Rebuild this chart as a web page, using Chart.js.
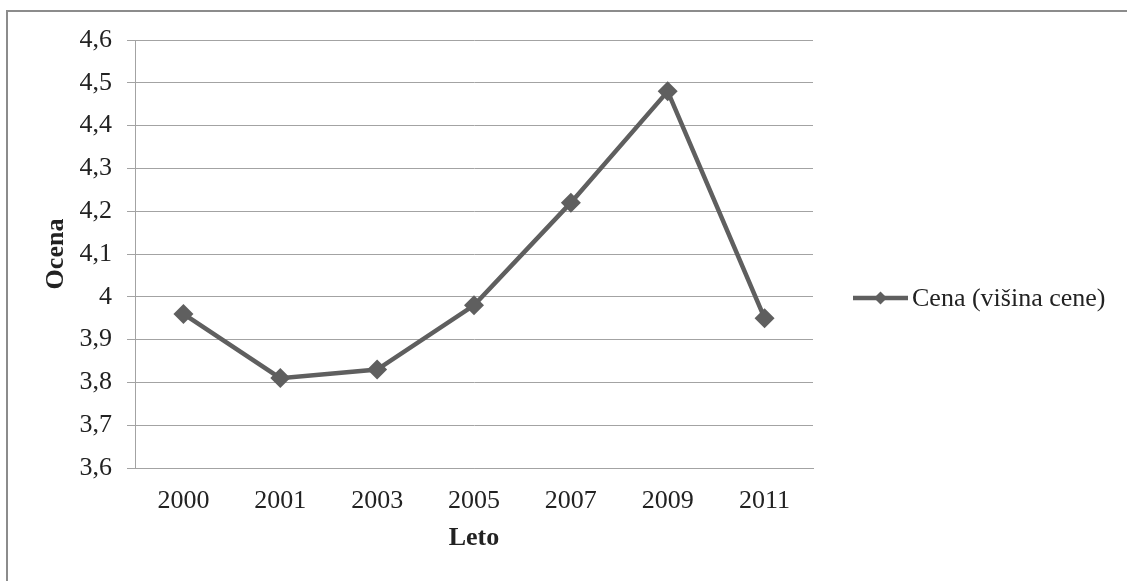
<!DOCTYPE html>
<html>
<head>
<meta charset="utf-8">
<script src="https://cdn.jsdelivr.net/npm/chart.js@4/dist/chart.umd.min.js"></script>
<style>
  html, body { margin: 0; padding: 0; background: #fff; }
  #wrap { position: relative; width: 1127px; height: 581px; overflow: hidden; }
  #frame {
    position: absolute; left: 6px; top: 10px; right: -4px; bottom: -4px;
    border-left: 2px solid #8c8c8c; border-top: 2px solid #8c8c8c;
    pointer-events: none;
  }
  canvas { position: absolute; left: 0; top: 0; }
</style>
</head>
<body>
<div id="wrap">
  <canvas id="chart" width="1127" height="581"></canvas>
  <div id="frame"></div>
</div>
<script>
// Survey years and the average rating of price
const years = ['2000', '2001', '2003', '2005', '2007', '2009', '2011'];
const cenaValues = [3.96, 3.81, 3.83, 3.98, 4.22, 4.48, 3.95];
const yTickLabels = ['3,6', '3,7', '3,8', '3,9', '4', '4,1', '4,2', '4,3', '4,4', '4,5', '4,6'];
const seriesName = 'Cena (višina cene)';

const FONT = "'Liberation Serif', 'Times New Roman', serif";
const LINE_COLOR = '#5f5f5f';
const GRID_COLOR = '#a3a3a3';
const TEXT_COLOR = '#222';

// Single-entry legend: line sample with a diamond marker, then the series name
const sideLegend = {
  id: 'sideLegend',
  afterDraw(chart) {
    const ctx = chart.ctx;
    const ds = chart.data.datasets[0];
    const y = 298, x0 = 853, x1 = 908;
    ctx.save();
    ctx.strokeStyle = ds.borderColor;
    ctx.lineWidth = ds.borderWidth;
    ctx.beginPath();
    ctx.moveTo(x0, y);
    ctx.lineTo(x1, y);
    ctx.stroke();
    const cx = (x0 + x1) / 2, r = 6.5;
    ctx.fillStyle = ds.pointBackgroundColor;
    ctx.beginPath();
    ctx.moveTo(cx, y - r);
    ctx.lineTo(cx + r, y);
    ctx.lineTo(cx, y + r);
    ctx.lineTo(cx - r, y);
    ctx.closePath();
    ctx.fill();
    ctx.fillStyle = TEXT_COLOR;
    ctx.font = '26px ' + FONT;
    ctx.textAlign = 'left';
    ctx.textBaseline = 'middle';
    ctx.fillText(ds.label, x1 + 4, y + 1);
    ctx.restore();
  }
};

new Chart(document.getElementById('chart'), {
  type: 'line',
  data: {
    labels: years,
    datasets: [{
      label: seriesName,
      data: cenaValues,
      borderColor: LINE_COLOR,
      borderWidth: 4.5,
      tension: 0,
      pointStyle: 'rectRot',
      pointRadius: 10,
      pointBackgroundColor: LINE_COLOR,
      pointBorderColor: LINE_COLOR,
      pointBorderWidth: 0
    }]
  },
  options: {
    responsive: false,
    animation: false,
    devicePixelRatio: 1,
    layout: { padding: { left: 41, top: 40, right: 314, bottom: 0 } },
    plugins: {
      legend: { display: false },
      tooltip: { enabled: false }
    },
    scales: {
      x: {
        type: 'category',
        offset: true,
        grid: { display: false, drawTicks: false },
        border: { display: true, color: GRID_COLOR, width: 1 },
        ticks: {
          color: TEXT_COLOR,
          font: { family: FONT, size: 26 },
          padding: 18,
          maxRotation: 0,
          autoSkip: false
        },
        title: {
          display: true,
          text: 'Leto',
          color: TEXT_COLOR,
          font: { family: FONT, size: 26, weight: 'bold' },
          padding: { top: 0, bottom: 27 }
        },
        afterFit(scale) { scale.height = 113; }
      },
      y: {
        min: 3.6,
        max: 4.6,
        grid: {
          color: GRID_COLOR,
          lineWidth: 1,
          drawTicks: true,
          tickLength: 8
        },
        border: { display: true, color: GRID_COLOR, width: 1 },
        ticks: {
          stepSize: 0.1,
          color: TEXT_COLOR,
          font: { family: FONT, size: 26 },
          padding: 15,
          callback: (value, index) => yTickLabels[index]
        },
        title: {
          display: true,
          text: 'Ocena',
          color: TEXT_COLOR,
          font: { family: FONT, size: 26, weight: 'bold' },
          padding: { top: 0, bottom: 0 }
        },
        afterFit(scale) { scale.width = 94; }
      }
    }
  },
  plugins: [sideLegend]
});
</script>
</body>
</html>
